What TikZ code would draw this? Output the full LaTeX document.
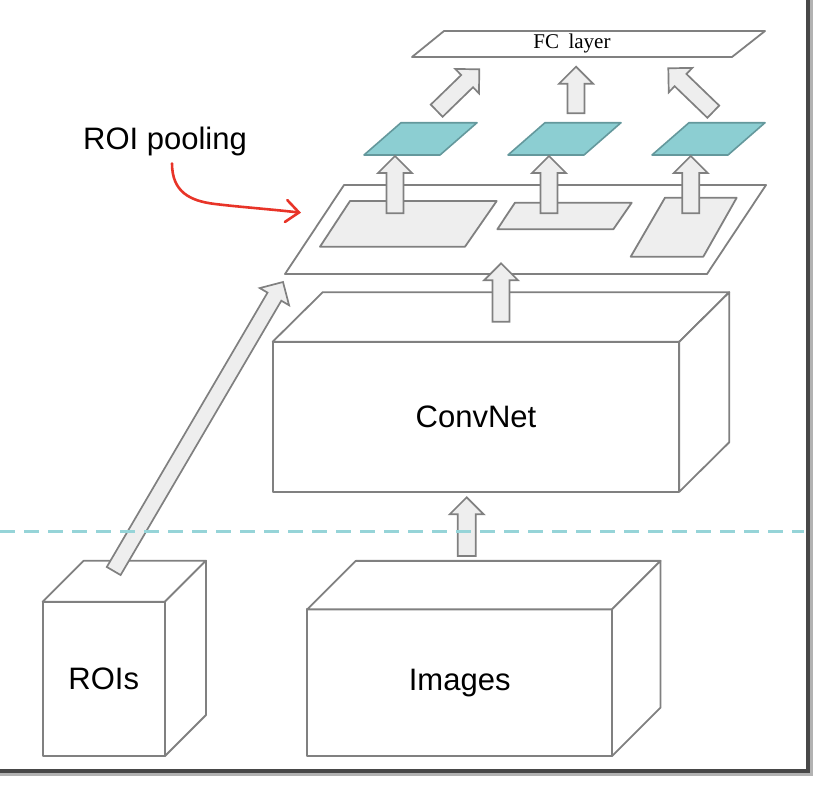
\documentclass[tikz,border=0pt]{standalone}
\usepackage{fontspec}
\setmainfont{Liberation Sans}
\newfontfamily\serifface{Liberation Serif}
\usetikzlibrary{calc,arrows.meta}
\definecolor{edge}{RGB}{128,128,128}
\definecolor{lightfill}{RGB}{238,238,238}
\definecolor{pooled}{RGB}{140,206,210}
\definecolor{pooledge}{RGB}{100,152,156}
\definecolor{splitline}{RGB}{150,212,216}
\definecolor{note}{RGB}{232,52,40}
\definecolor{framecol}{RGB}{72,72,72}
% top and right faces of a box whose front face is node #1, depth (#2,#3)
\newcommand{\cuboid}[3]{%
  \draw[face] (#1.north west) -- ++(#2,#3) -- ($(#1.north east)+(#2,#3)$)
    -- (#1.north east) -- cycle;
  \draw[face] (#1.north east) -- ($(#1.north east)+(#2,#3)$)
    -- ($(#1.south east)+(#2,#3)$) -- (#1.south east) -- cycle;
}
% outlined block arrow from #2 to #3, shaft half width #1
\newcommand{\blockarrow}[3][8.5pt]{%
  \coordinate (ba-h) at ($(#3)!17pt!(#2)$);
  \draw[blockarr] ($(#2)!#1!90:(#3)$) -- ($(ba-h)!#1!90:(#3)$)
    -- ($(ba-h)!17pt!90:(#3)$) -- (#3) -- ($(ba-h)!17pt!-90:(#3)$)
    -- ($(ba-h)!#1!-90:(#3)$) -- ($(#2)!#1!-90:(#3)$) -- cycle;
}
\tikzset{
  face/.style={draw=edge, fill=white, line width=1.8pt, line join=round},
  front/.style={face, rectangle, outer sep=0pt, inner sep=0pt,
                font=\fontsize{31}{36}\selectfont},
  roirect/.style={face, fill=lightfill},
  pooledsq/.style={draw=pooledge, fill=pooled, line width=1.6pt, line join=round},
  blockarr/.style={draw=edge, fill=lightfill, line width=1.7pt},
  split/.style={draw=splitline, line width=3pt, dash pattern=on 15pt off 9pt},
  frameline/.style={draw=framecol, line width=3.5pt},
  noteline/.style={draw=note, line width=2.6pt, line cap=round,
                   -{Straight Barb[length=13pt, width=22pt, line cap=round]}},
}
\begin{document}
\begin{tikzpicture}[x=1pt, y=-1pt]
  \useasboundingbox (0,0) rectangle (818,784);
  % window frame
  \draw[frameline, draw=black!30, line width=3pt] (0,774) -- (811,774) -- (811,0);
  \draw[frameline] (0,771) -- (808,771) -- (808,0);

  % fully connected layer
  \draw[face] (412,57) -- (732,57) -- (765,31) -- (444,31) -- cycle;
  \node[font=\serifface\fontsize{21}{24}\selectfont] (fc) at (572,43.5) {FC\hspace{0.45em}layer};

  % pooled features
  \foreach \x/\n in {364/pa, 508/pb, 652/pc}
    \draw[pooledsq] (\x,155) -- ++(76,0) -- ++(37,-32.3) -- ++(-76,0) -- cycle;

  % feature map with the projected ROIs
  \draw[face] (285,274) -- (707,274) -- (766,185) -- (344,185) -- cycle;
  \draw[roirect] (320,246.7) -- (465,246.7) -- (496.7,201) -- (350,201) -- cycle;
  \draw[roirect] (497.3,229.3) -- (613.3,229.3) -- (631.7,202.7) -- (515,202.7) -- cycle;
  \draw[roirect] (630.7,256.7) -- (703.3,256.7) -- (736.7,197.7) -- (665,197.7) -- cycle;

  \coordinate (ra-out) at (395,213.3);   \coordinate (pa-in) at (395,156);
  \coordinate (rb-out) at (549,213.3);   \coordinate (pb-in) at (549,156);
  \coordinate (rc-out) at (690.7,213.3); \coordinate (pc-in) at (690.7,156);
  \blockarrow{ra-out}{pa-in}
  \blockarrow{rb-out}{pb-in}
  \blockarrow{rc-out}{pc-in}

  \coordinate (pa-out) at (436.7,110.7); \coordinate (fc-l-in) at (479.3,69.3);
  \coordinate (pb-out) at (576,113.3);   \coordinate (fc-m-in) at (576,66.7);
  \coordinate (pc-out) at (713.3,111.7); \coordinate (fc-r-in) at (668.3,68.3);
  \blockarrow{pa-out}{fc-l-in}
  \blockarrow{pb-out}{fc-m-in}
  \blockarrow{pc-out}{fc-r-in}

  % boxes
  \node[front, minimum width=406.6pt, minimum height=150pt] (conv) at (476,416.7) {ConvNet};
  \cuboid{conv}{50}{-49.5}
  \node[front, minimum width=304.7pt, minimum height=146.7pt] (img) at (459.7,682.7) {Images};
  \cuboid{img}{48.5}{-48.5}
  \node[front, minimum width=122.3pt, minimum height=154.3pt] (rois) at (103.8,678.9) {ROIs};
  \cuboid{rois}{41}{-41}

  \coordinate (conv-out) at (501,321.7);  \coordinate (map-in) at (501,263.3);
  \coordinate (img-out) at (466.7,556);   \coordinate (conv-in) at (466.7,497.3);
  \coordinate (rois-out) at (113.7,571);  \coordinate (map-roi-in) at (283,282);
  \blockarrow{conv-out}{map-in}
  \blockarrow[9pt]{img-out}{conv-in}
  \blockarrow[8pt]{rois-out}{map-roi-in}

  % train / test split
  \draw[split] (0,531) -- (804,531);

  % annotation
  \node[inner sep=0pt, font=\fontsize{31}{36}\selectfont] (poolnote) at (165,141.7) {ROI pooling};
  \coordinate (note-tip) at (301,212.7);
  \draw[noteline] ($(poolnote.south)+(7,7)$) .. controls (172,192) and (190,201) .. (215,204)
    .. controls (240,207) and (268,209) .. (note-tip);
\end{tikzpicture}
\end{document}
